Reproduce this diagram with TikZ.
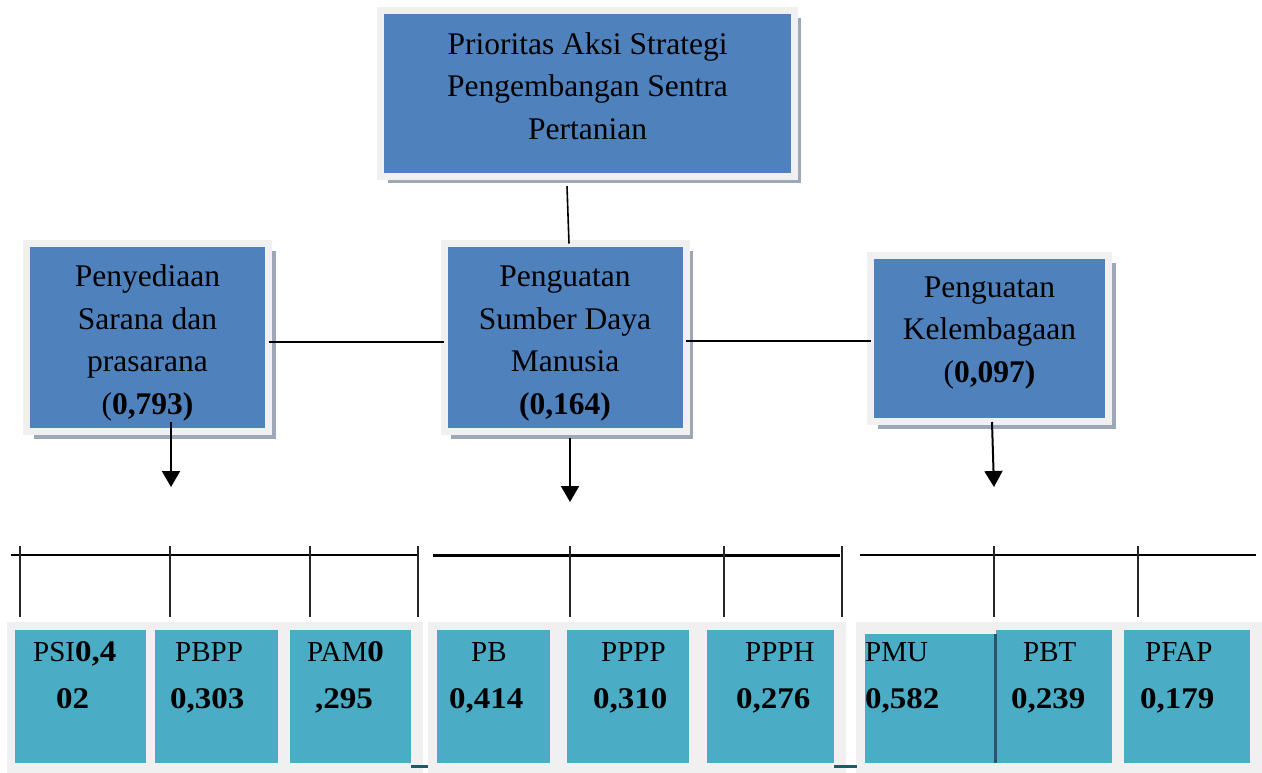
\documentclass[tikz,border=0pt]{standalone}
\usepackage{fontspec}
\setmainfont{Liberation Serif}
\newfontfamily\numfont{Liberation Serif}[FakeStretch=1.1]
\usetikzlibrary{arrows.meta,shadows,calc}
\definecolor{boxblue}{HTML}{4F81BD}
\definecolor{framegray}{HTML}{F0F0F0}
\definecolor{shadowgray}{HTML}{9EA7B6}
\definecolor{tealbox}{HTML}{4BACC6}
\definecolor{darkteal}{HTML}{215968}
\begin{document}
\begin{tikzpicture}[x=1pt,y=-1pt,
  mainbox/.style={fill=boxblue, draw=framegray, line width=7pt, outer sep=0pt, inner sep=0pt,
    align=center, font=\fontsize{31.5}{42.5}\selectfont,
    drop shadow={shadow xshift=7pt, shadow yshift=-7pt, fill=shadowgray, opacity=1}},
  subbox/.style={fill=tealbox, draw=none, inner sep=0pt, outer sep=0pt, minimum height=133pt},
  lbl/.style={anchor=base west, inner sep=0pt, font=\fontsize{29}{34}\selectfont},
  num/.style={anchor=base west, inner sep=0pt, font=\numfont\bfseries\fontsize{30}{36}\selectfont},
  link/.style={line width=1.6pt, black},
  arr/.style={line width=2pt, black, -{Triangle[width=18pt,length=16pt]}},
  tick/.style={line width=1.8pt, black!85},
  bar/.style={line width=2pt, black}]
\useasboundingbox (0,0) rectangle (1262,773);
\fill[white] (0,0) rectangle (1262,773);

% main boxes
\node[mainbox, minimum width=413.5pt, minimum height=165.5pt, text depth=15pt] (T) at (587.5,93.5)
  {Prioritas Aksi Strategi\\Pengembangan Sentra\\Pertanian};
\node[mainbox, minimum width=242pt, minimum height=188pt, text height=160pt] (L) at (147.5,337.5)
  {Penyediaan\\Sarana dan\\prasarana\\(\textbf{0,793)}};
\node[mainbox, minimum width=242pt, minimum height=188pt, text height=160pt] (M) at (565,337.5)
  {Penguatan\\Sumber Daya\\Manusia\\\textbf{(0,164)}};
\node[mainbox, minimum width=238pt, minimum height=166pt, text depth=18pt] (R) at (989.5,338.5)
  {Penguatan\\Kelembagaan\\(\textbf{0,097)}};

% connectors between main boxes
\draw[link] ([xshift=-20.5pt,yshift=-10pt]T.south) -- ([xshift=4pt]M.north);
\draw[link] ([yshift=-4.5pt]L.east) -- ([yshift=-4.5pt]M.west);
\draw[link] ([yshift=-3.5pt]M.east) -- ([yshift=-2.5pt]R.west);

% arrows down
\coordinate (aL) at (171,487);
\coordinate (aM) at (570,502);
\coordinate (aR) at (994,487);
\draw[arr] ([xshift=23.5pt,yshift=9.5pt]L.south) -- (aL);
\draw[arr] ([xshift=5pt,yshift=-6.5pt]M.south) -- (aM);
\draw[arr] ([xshift=2.5pt,yshift=-0.5pt]R.south) -- (aR);

% bars and ticks
\draw[bar] (11,555) -- (417,555);
\draw[bar, line width=3pt] (433,555) -- (840,555);
\draw[bar] (860,555) -- (1256,555);
\foreach \x in {20,170,310,418,570,724,842,994,1138}
  \draw[tick] (\x,546) -- (\x,617);

% panels
\fill[framegray] (7,622) rectangle (423,773);
\fill[framegray] (428,622) rectangle (846,773);
\fill[framegray] (856,622) rectangle (1262,773);

% sub boxes
\node[subbox, minimum width=131pt] (b1) at (80.5,696.5) {};
\node[subbox, minimum width=123pt] (b2) at (216.5,696.5) {};
\node[subbox, minimum width=121pt] (b3) at (350.5,696.5) {};
\node[subbox, minimum width=113pt] (b4) at (493.5,696.5) {};
\node[subbox, minimum width=122pt] (b5) at (628,696.5) {};
\node[subbox, minimum width=127pt] (b6) at (770.5,696.5) {};
\node[subbox, minimum width=132pt, minimum height=129pt] (b7) at (931,698.5) {};
\node[subbox, minimum width=116pt] (b8) at (1054,696.5) {};
\node[subbox, minimum width=126pt] (b9) at (1187,696.5) {};
\fill[darkteal] (994,634) rectangle (997,763);
\fill[darkteal] (411,765) rectangle (428,768);
\fill[darkteal] (834,765) rectangle (857,768);

% sub box labels
\node[lbl] (t1) at (33,661) {PSI{\numfont\bfseries\fontsize{30}{36}\selectfont 0,4}};
\node[num] (n1) at (56,708) {02};
\node[lbl] (t2) at (175,661) {PBPP};
\node[num] (n2) at (170,708) {0,303};
\node[lbl] (t3) at (307,661) {PAM{\numfont\bfseries\fontsize{30}{36}\selectfont 0}};
\node[num] (n3) at (315,708) {,295};
\node[lbl] (t4) at (471,661) {PB};
\node[num] (n4) at (449,708) {0,414};
\node[lbl] (t5) at (601,661) {PPPP};
\node[num] (n5) at (593,708) {0,310};
\node[lbl] (t6) at (745,661) {PPPH};
\node[num] (n6) at (736,708) {0,276};
\node[lbl] (t7) at (865,661) {PMU};
\node[num] (n7) at (865,708) {0,582};
\node[lbl] (t8) at (1023,661) {PBT};
\node[num] (n8) at (1011,708) {0,239};
\node[lbl] (t9) at (1145,661) {PFAP};
\node[num] (n9) at (1140,708) {0,179};
\end{tikzpicture}
\end{document}
